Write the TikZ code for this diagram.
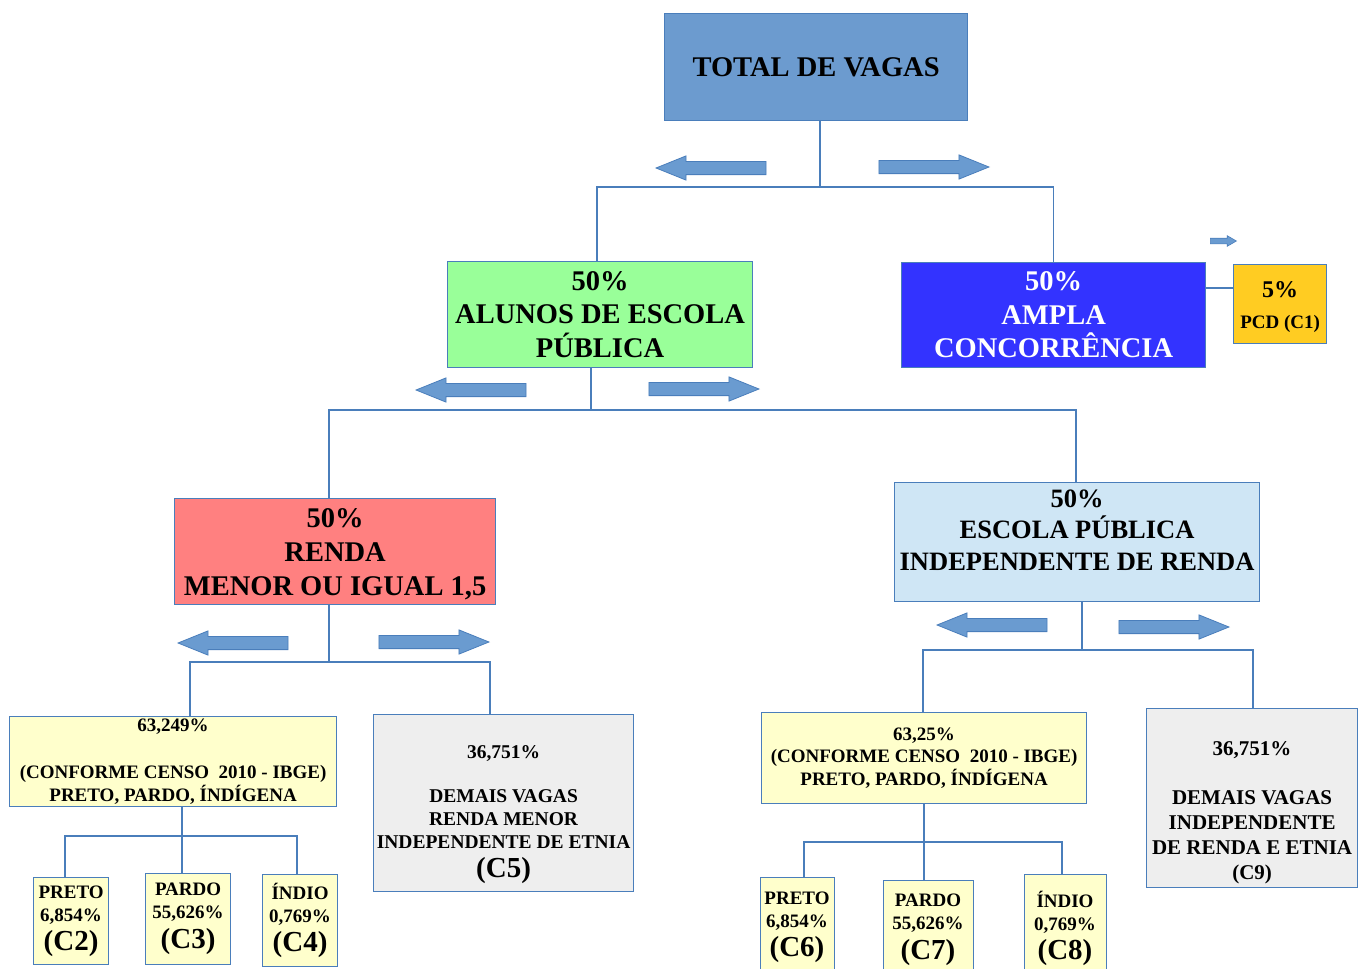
\documentclass[tikz,border=0pt]{standalone}
\usepackage{fontspec}
\setmainfont{Liberation Serif}
\usetikzlibrary{shapes.arrows}
\definecolor{bord}{HTML}{4A7EBB}
\definecolor{ctotal}{HTML}{6C9BCF}
\definecolor{cgreen}{HTML}{99FF99}
\definecolor{cblue}{HTML}{3333FF}
\definecolor{cpcd}{HTML}{FFCC22}
\definecolor{cred}{HTML}{FF8080}
\definecolor{clblue}{HTML}{CFE6F5}
\definecolor{cyel}{HTML}{FFFFCC}
\definecolor{cgray}{HTML}{EEEEEE}
\definecolor{carrow}{HTML}{6A9BD0}
\newcommand{\fs}[2]{\fontsize{#1}{#2}\selectfont}
\begin{document}
\begin{tikzpicture}[x=1pt,y=-1pt,
  box/.style={draw=bord,line width=1.2pt,inner sep=0pt,align=center,anchor=north west},
  txt/.style={inner sep=0pt,align=center},
  conn/.style={draw=bord,line width=1.2pt},
  bigarrow/.style={single arrow,draw=bord,fill=carrow,line width=0.8pt,minimum height=110pt,inner xsep=0pt,inner ysep=6.2pt,single arrow head extend=5.5pt,single arrow tip angle=44,anchor=tip},
  smallarrow/.style={single arrow,draw=bord,fill=carrow,line width=0.6pt,minimum height=26pt,inner xsep=0pt,inner ysep=2.5pt,single arrow head extend=2.5pt,single arrow tip angle=60,anchor=tip}]
\useasboundingbox (0,0) rectangle (1361,969);
\fill[white] (0,0) rectangle (1361,969);
% boxes
\node[box,fill=ctotal,minimum width=303pt,minimum height=107pt,font=\bfseries\fs{28.5}{33}] (total) at (664,13) {TOTAL DE VAGAS};
\node[box,fill=cgreen,minimum width=305pt,minimum height=106pt,font=\bfseries\fs{28.5}{33.5}] (green) at (447,261) {50\%\\ALUNOS DE ESCOLA\\PÚBLICA};
\node[box,fill=cblue,text=white,minimum width=304pt,minimum height=105pt,font=\bfseries\fs{28.5}{33.5}] (blue) at (901,262) {50\%\\AMPLA\\CONCORRÊNCIA};
\node[box,fill=cpcd,minimum width=93pt,minimum height=79pt] (pcd) at (1233,264) {};
\node[txt,font=\bfseries\fs{19}{31}] (t-pcd) at ([yshift=-3pt]pcd.center) {\fs{24}{31}5\%\\PCD (C1)};
\node[box,fill=cred,minimum width=321pt,minimum height=106pt] (red) at (174,498) {};
\node[txt,font=\bfseries\fs{28.5}{34}] (t-red) at ([yshift=-3pt]red.center) {50\%\\RENDA\\MENOR OU IGUAL 1,5};
\node[box,fill=clblue,minimum width=365pt,minimum height=119pt] (lblue) at (894,482) {};
\node[txt,font=\bfseries\fs{26.5}{31.5}] (t-lblue) at ([yshift=12pt]lblue.center) {50\%\\ESCOLA PÚBLICA\\INDEPENDENTE DE RENDA};
\node[box,fill=cyel,minimum width=327pt,minimum height=90pt,font=\bfseries\fs{19}{22.5}] (yel1) at (9,716) {63,249\%\\[25pt](CONFORME CENSO\ \ 2010 - IBGE)\\PRETO, PARDO, ÍNDÍGENA};
\node[box,fill=cgray,minimum width=260pt,minimum height=177pt] (c5) at (373,714) {};
\node[txt,font=\bfseries\fs{19.5}{23}] (t-c5) at ([yshift=-11pt]c5.center) {36,751\%\\[21pt]DEMAIS VAGAS\\RENDA MENOR\\INDEPENDENTE DE ETNIA\\[6pt]\fs{29}{28}(C5)};
\node[box,fill=cyel,minimum width=325pt,minimum height=91pt,font=\bfseries\fs{19}{22.5}] (yel2) at (761,712) {63,25\%\\(CONFORME CENSO\ \ 2010 - IBGE)\\PRETO, PARDO, ÍNDÍGENA};
\node[box,fill=cgray,minimum width=211pt,minimum height=179pt] (c9) at (1146,708) {};
\node[txt,font=\bfseries\fs{21}{25}] (t-c9) at ([yshift=-15pt]c9.center) {36,751\%\\[24pt]DEMAIS VAGAS\\INDEPENDENTE\\DE RENDA E ETNIA\\(C9)};
% small boxes
\tikzset{smallbox/.style={box,fill=cyel,font=\bfseries\fs{19}{23}}}
\node[smallbox,minimum width=75pt,minimum height=87pt] (c2) at (33,877) {PRETO\\6,854\%\\[5pt]\fs{29}{28}(C2)};
\node[smallbox,minimum width=85pt,minimum height=91pt] (c3) at (145,873) {PARDO\\55,626\%\\[6pt]\fs{29}{28}(C3)};
\node[smallbox,minimum width=75pt,minimum height=92pt] (c4) at (262,874) {ÍNDIO\\0,769\%\\[5pt]\fs{29}{28}(C4)};
\node[smallbox,minimum width=74pt,minimum height=105pt] (c6) at (760,877) {};
\node[smallbox,minimum width=90pt,minimum height=100pt] (c7) at (883,880) {};
\node[smallbox,minimum width=82pt,minimum height=106pt] (c8) at (1024,874) {};
\tikzset{smalltxt/.style={txt,font=\bfseries\fs{19}{23}}}
\node[smalltxt] (t-c6) at (797,927) {PRETO\\6,854\%\\[5pt]\fs{29}{28}(C6)};
\node[smalltxt] (t-c7) at (928,929.5) {PARDO\\55,626\%\\[6pt]\fs{29}{28}(C7)};
\node[smalltxt] (t-c8) at (1065,928) {ÍNDIO\\0,769\%\\[5pt]\fs{29}{28}(C8)};
% junction coordinates
\coordinate (j1) at (820,187);
\coordinate (j2) at (591,410);
\coordinate (j3) at (329,662);
\coordinate (j4) at (1082,650);
\coordinate (j5) at (182,836);
\coordinate (j6) at (924,842);
% connectors
\draw[conn] (total.south -| j1) -- (j1);
\draw[conn] (green.north -| 597,0) |- (j1) -| (blue.north);
\draw[conn] (pcd.west |- 0,288) -- (blue.east |- 0,288);
\draw[conn] (green.south -| j2) -- (j2);
\draw[conn] (red.north -| j3) |- (j2) -| (lblue.north -| 1076,0);
\draw[conn] (red.south -| j3) -- (j3);
\draw[conn] (yel1.north -| 190,0) |- (j3) -| (c5.north -| 490,0);
\draw[conn] (lblue.south -| j4) -- (j4);
\draw[conn] (yel2.north -| 923,0) |- (j4) -| (c9.north -| 1253,0);
\draw[conn] (yel1.south -| j5) -- (c3.north -| j5);
\draw[conn] (c2.north -| 65,0) |- (j5) -| (c4.north -| 297,0);
\draw[conn] (yel2.south -| j6) -- (c7.north -| j6);
\draw[conn] (c6.north -| 804,0) |- (j6) -| (c8.north -| 1062,0);
% arrows
\node[bigarrow,shape border rotate=180] (a1) at (655,168) {};
\node[bigarrow] (a2) at (990,167) {};
\node[bigarrow,shape border rotate=180] (a3) at (415,390) {};
\node[bigarrow] (a4) at (760,389) {};
\node[bigarrow,shape border rotate=180] (a5) at (177,643) {};
\node[bigarrow] (a6) at (490,642) {};
\node[bigarrow,shape border rotate=180] (a7) at (936,625) {};
\node[bigarrow] (a8) at (1230,627) {};
\node[smallarrow] (a9) at (1237,241) {};
\end{tikzpicture}
\end{document}
